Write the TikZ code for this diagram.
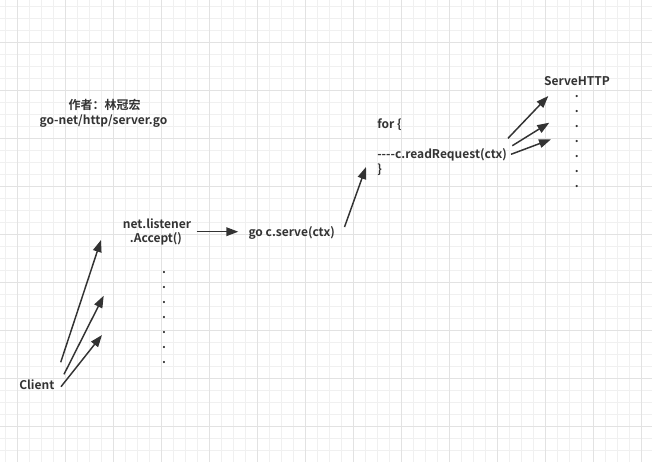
\documentclass[tikz,border=0pt]{standalone}
\usepackage{fontspec}
\setmainfont{Noto Sans CJK SC}[BoldFont={Noto Sans CJK SC Bold}, Ligatures=TeXOff]
\usetikzlibrary{arrows.meta}
\definecolor{ink}{HTML}{333333}
\definecolor{gridthin}{HTML}{F0F0F0}
\definecolor{gridthick}{HTML}{E2E2E2}

\begin{document}
\begin{tikzpicture}[x=0.75pt, y=-0.75pt,
    every node/.style={inner sep=0pt, text=ink, font=\fontsize{9}{12}\selectfont\bfseries},
    arr/.style={draw=ink, line width=1.1pt, -{Triangle[length=9pt,width=6.5pt]}}]
            \useasboundingbox (0,0) rectangle (652,462);
            \fill[white] (0,0) rectangle (652,462);
            \foreach \i in {0,...,53} \draw[gridthin, line width=0.75pt] (5.7+12*\i,0) -- (5.7+12*\i,462);
            \foreach \j in {0,...,37} \draw[gridthin, line width=0.75pt] (0,6.3+12*\j) -- (652,6.3+12*\j);
            \foreach \i in {0,...,13} \draw[gridthick, line width=0.75pt] (17.7+48*\i,0) -- (17.7+48*\i,462);
            \foreach \j in {0,...,8} \draw[gridthick, line width=0.75pt] (0,42.3+48*\j) -- (652,42.3+48*\j);

            \node (author) at (104.5,104.5) {作者：林冠宏};
            \node (file) at (103.5,121.5) {go-net/http/server.go};

            \node (client) at (36.8,384.3) {Client};
            \node (listener) at (157,224) {net.listener};
            \node (accept) at (156,239) {.Accept()};
            \node (serve) at (291.7,232.7) {go c.serve(ctx)};
            \node[anchor=west] (loop) at (377,124.3) {for \{};
            \node[anchor=west] (read) at (377,155) {----c.readRequest(ctx)};
            \node[anchor=west] (close) at (377,169.3) {\}};
            \node (http) at (577,80.7) {ServeHTTP};

            \foreach \k in {0,...,6} \node[anchor=base] (accdot\k) at (164,273+15*\k) {.};
            \foreach \k in {0,...,6} \node[anchor=base] (httpdot\k) at (576.7,97.5+15*\k) {.};

            \coordinate (c1) at (60.7,362.3);
            \coordinate (c2) at (64,374.3);
            \coordinate (c3) at (61,386.7);
            \coordinate (t1) at (101,240);
            \coordinate (t2) at (103.7,295.7);
            \coordinate (t3) at (102,335);
            \draw[arr] (c1) -- (t1);
            \draw[arr] (c2) -- (t2);
            \draw[arr] (c3) -- (t3);

            \coordinate (a1) at (196.7,231.7);
            \coordinate (a2) at (238.3,231.7);
            \draw[arr] (a1) -- (a2);

            \coordinate (s1) at (344.5,227);
            \coordinate (s2) at (366,167);
            \draw[arr] (s1) -- (s2);

            \coordinate (r1) at (508,138.3);
            \coordinate (r2) at (512.3,145.7);
            \coordinate (r3) at (511,154.3);
            \coordinate (h1) at (548.3,96);
            \coordinate (h2) at (549.3,122.7);
            \coordinate (h3) at (551,139.3);
            \draw[arr] (r1) -- (h1);
            \draw[arr] (r2) -- (h2);
            \draw[arr] (r3) -- (h3);
          \end{tikzpicture}
\end{document}
